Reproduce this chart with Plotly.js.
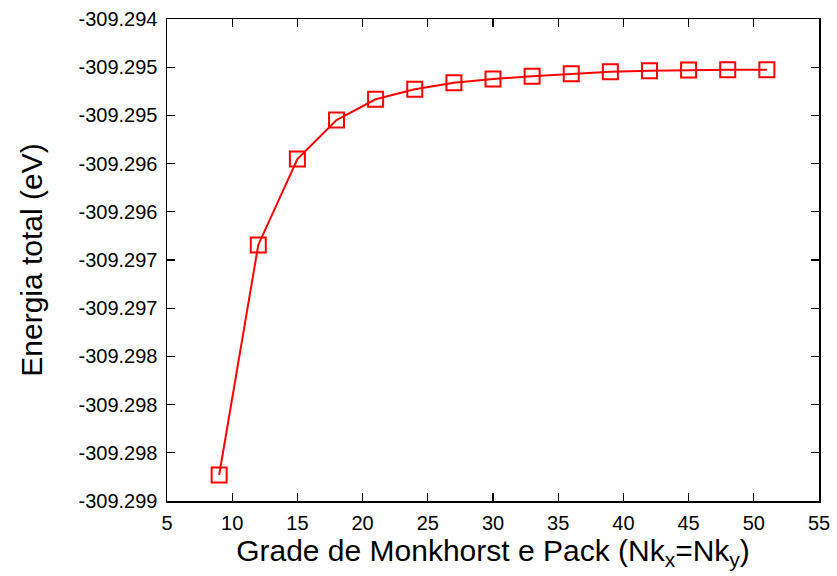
<!DOCTYPE html>
<html>
<head>
<meta charset="utf-8">
<script src="https://cdn.plot.ly/plotly-3.0.1.min.js"></script>
<style>
  html, body { margin: 0; padding: 0; background: #fff; }
  #plot { width: 837px; height: 576px; }
</style>
</head>
<body>
<div id="plot"></div>
<script>
// k-point grid convergence of the total energy
const gridSize = [9, 12, 15, 18, 21, 24, 27, 30, 33, 36, 39, 42, 45, 48, 51];
const totalEnergy = [
  -309.298730, -309.296344, -309.295452, -309.295048, -309.294833,
  -309.294729, -309.294661, -309.294622, -309.294594, -309.294567,
  -309.294547, -309.294536, -309.294529, -309.294526, -309.294526
];

// y ticks every 0.0005 eV, labelled with three decimals
const yTickVals = [-309.2990, -309.2985, -309.2980, -309.2975, -309.2970, -309.2965,
                   -309.2960, -309.2955, -309.2950, -309.2945, -309.2940];
const yTickText = ['-309.299', '-309.298', '-309.298', '-309.298', '-309.297', '-309.297',
                   '-309.296', '-309.296', '-309.295', '-309.295', '-309.294'];

const fontFamily = '"Liberation Sans", Arial, Helvetica, sans-serif';

const trace = {
  x: gridSize,
  y: totalEnergy,
  type: 'scatter',
  mode: 'lines+markers',
  line: { color: '#ff0000', width: 2 },
  marker: {
    symbol: 'square-open',
    size: 15,
    color: '#ff0000',
    line: { color: '#ff0000', width: 2 }
  },
  showlegend: false
};

const axisCommon = {
  showline: true,
  linecolor: '#000',
  linewidth: 1.5,
  mirror: 'ticks',
  ticks: 'inside',
  ticklen: 8,
  tickwidth: 1.2,
  tickcolor: '#000',
  showgrid: false,
  zeroline: false,
  tickfont: { family: fontFamily, size: 20, color: '#000' }
};

const layout = {
  width: 837,
  height: 576,
  margin: { l: 167, r: 18, t: 19, b: 75 },
  paper_bgcolor: '#fff',
  plot_bgcolor: '#fff',
  font: { family: fontFamily, color: '#000' },
  xaxis: Object.assign({}, axisCommon, {
    range: [5, 55],
    tick0: 5,
    dtick: 5,
    ticklabelstandoff: 3,
    title: {
      text: 'Grade de Monkhorst e Pack (Nk<sub>x</sub>=Nk<sub>y</sub>)',
      font: { family: fontFamily, size: 30, color: '#000' },
      standoff: 2
    }
  }),
  yaxis: Object.assign({}, axisCommon, {
    range: [-309.299, -309.294],
    tickmode: 'array',
    tickvals: yTickVals,
    ticktext: yTickText,
    ticklabelstandoff: 4,
    title: {
      text: 'Energia total (eV)',
      font: { family: fontFamily, size: 30, color: '#000' },
      standoff: 27
    }
  })
};

Plotly.newPlot('plot', [trace], layout, { displayModeBar: false, staticPlot: true });
</script>
</body>
</html>
